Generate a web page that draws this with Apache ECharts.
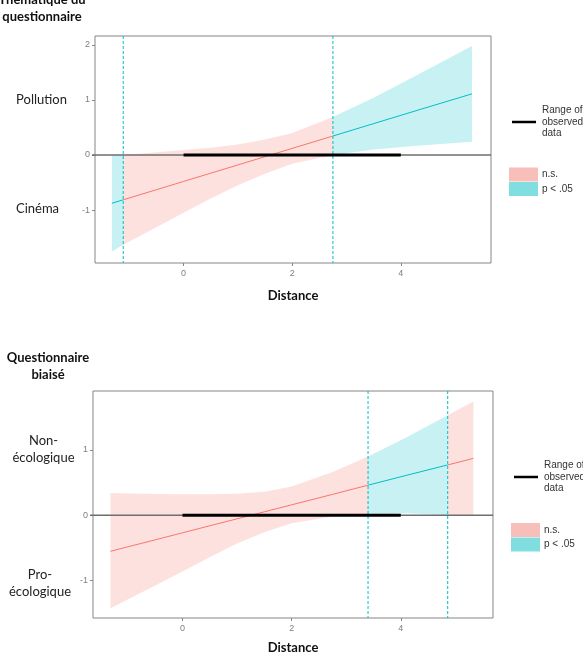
<!DOCTYPE html>
<html>
<head>
<meta charset="utf-8">
<script src="https://cdn.jsdelivr.net/npm/echarts@6/dist/echarts.min.js"></script>
<style>
  html, body { margin: 0; padding: 0; background: #fff; }
  #chart { width: 583px; height: 661px; }
</style>
</head>
<body>
<div id="chart"></div>
<script>
// top panel : questionnaire theme (Pollution / Cinéma)
const xTop = [-1.32, -1.11, -0.5, 0, 0.5, 1.0, 1.5, 2.0, 2.75, 3.5, 4.3, 5.31]
const estTop = [-0.876, -0.813, -0.63, -0.48, -0.33, -0.18, -0.03, 0.12, 0.345, 0.57, 0.81, 1.11]
const lowTop = [-1.75, -1.63, -1.31, -1.05, -0.79, -0.55, -0.34, -0.16, 0.0, 0.10, 0.17, 0.24]
const upTop = [-0.01, 0.0, 0.05, 0.09, 0.13, 0.19, 0.28, 0.40, 0.69, 1.04, 1.45, 1.98]
const jnTop = [-1.11, 2.75]

// bottom panel : biased questionnaire
const xBot = [-1.32, -0.5, 0, 0.5, 1.0, 1.5, 2.0, 2.75, 3.40, 4.1, 4.86, 5.33]
const estBot = [-0.55, -0.375, -0.268, -0.16, -0.054, 0.053, 0.16, 0.32, 0.46, 0.61, 0.77, 0.87]
const lowBot = [-1.42, -1.075, -0.86, -0.64, -0.43, -0.26, -0.12, -0.02, 0.0, 0.03, 0.0, -0.01]
const upBot = [0.34, 0.325, 0.32, 0.32, 0.33, 0.36, 0.44, 0.66, 0.90, 1.19, 1.53, 1.74]
const jnBot = [3.40, 4.86]

const observedRange = [0, 4]
const xTicks = [0, 2, 4]
const yTicksTop = [-1, 0, 1, 2]
const yTicksBot = [-1, 0, 1]

const PINK = '#F8766D'
const CYAN = '#00BFC4'
const PINK_FILL = 'rgba(248,118,109,0.22)'
const CYAN_FILL = 'rgba(0,191,196,0.22)'
const LABEL_FONT = 'Lato'
const SMALL_FONT = '"Liberation Sans", Arial, sans-serif'

// split point indices into ns / significant stretches at the J-N points
const regions = (xs, jn, startsSig) => {
  const cuts = [0, ...jn.map(v => xs.indexOf(v)), xs.length - 1]
  const out = []
  for (let i = 0; i < cuts.length - 1; i++) {
    out.push({ from: cuts[i], to: cuts[i + 1], sig: (i % 2 === 0) === startsSig })
  }
  return out
}

const panelSeries = (idx, xs, est, lo, hi, jn, startsSig) => {
  const regs = regions(xs, jn, startsSig)
  const list = []

  list.push({
    type: 'custom',
    xAxisIndex: idx,
    yAxisIndex: idx,
    z: 1,
    silent: true,
    data: regs.map(r => [xs[r.from], est[r.from]]),
    renderItem: (params, api) => {
      const r = regs[params.dataIndex]
      const pts = []
      for (let i = r.from; i <= r.to; i++) pts.push(api.coord([xs[i], hi[i]]))
      for (let i = r.to; i >= r.from; i--) pts.push(api.coord([xs[i], lo[i]]))
      return {
        type: 'polygon',
        shape: { points: pts },
        style: { fill: r.sig ? CYAN_FILL : PINK_FILL }
      }
    }
  })

  // J-N bounds: dashed verticals across the whole panel
  list.push({
    type: 'custom',
    xAxisIndex: idx,
    yAxisIndex: idx,
    z: 2,
    silent: true,
    data: jn.map(v => [v, 0]),
    renderItem: (params, api) => {
      const p = api.coord([api.value(0), 0])
      const cs = params.coordSys
      return {
        type: 'line',
        shape: { x1: p[0], y1: cs.y, x2: p[0], y2: cs.y + cs.height },
        style: { stroke: CYAN, lineWidth: 1, lineDash: [3, 2] }
      }
    }
  })

  // zero reference across the panel
  list.push({
    type: 'custom',
    xAxisIndex: idx,
    yAxisIndex: idx,
    z: 3,
    silent: true,
    data: [[0, 0]],
    renderItem: (params, api) => {
      const p = api.coord([0, api.value(1)])
      const cs = params.coordSys
      return {
        type: 'line',
        shape: { x1: cs.x - 3, y1: p[1], x2: cs.x + cs.width, y2: p[1] },
        style: { stroke: '#6e6e6e', lineWidth: 1.5 }
      }
    }
  })

  regs.forEach(r => {
    list.push({
      type: 'line',
      xAxisIndex: idx,
      yAxisIndex: idx,
      z: 4,
      silent: true,
      symbol: 'none',
      lineStyle: { color: r.sig ? CYAN : PINK, width: 1 },
      data: xs.slice(r.from, r.to + 1).map((v, k) => [v, est[r.from + k]])
    })
  })

  list.push({
    type: 'line',
    xAxisIndex: idx,
    yAxisIndex: idx,
    z: 5,
    silent: true,
    symbol: 'none',
    lineStyle: { color: '#000', width: 3 },
    data: observedRange.map(v => [v, 0])
  })

  return list
}

const xAxisOf = (idx, min, max, gap) => ({
  type: 'value',
  gridIndex: idx,
  min, max,
  name: 'Distance',
  nameLocation: 'middle',
  nameGap: gap,
  nameTextStyle: { fontFamily: LABEL_FONT, fontWeight: 'bold', fontSize: 13, color: '#111' },
  axisLine: { show: false, onZero: false },
  splitLine: { show: false },
  axisTick: { show: true, length: 3, lineStyle: { color: '#888' }, customValues: xTicks },
  axisLabel: { customValues: xTicks, color: '#7f7f7f', fontSize: 9, fontFamily: SMALL_FONT, margin: 6 }
})

const yAxisOf = (idx, min, max, ticks) => ({
  type: 'value',
  gridIndex: idx,
  min, max,
  axisLine: { show: false, onZero: false },
  splitLine: { show: false },
  axisTick: { show: true, length: 3, lineStyle: { color: '#888' }, customValues: ticks },
  axisLabel: { customValues: ticks, color: '#7f7f7f', fontSize: 9, fontFamily: SMALL_FONT, margin: 5 }
})

const sideText = (x, y, text, bold) => ({
  type: 'text',
  x, y,
  style: {
    text,
    fill: bold ? '#111' : '#222',
    font: `${bold ? 'bold ' : ''}13px ${LABEL_FONT}`,
    lineHeight: 17,
    align: 'center',
    verticalAlign: 'middle'
  }
})

const legendText = (x, y, text) => ({
  type: 'text',
  x, y,
  style: { text, fill: '#333', font: `10px ${SMALL_FONT}`, lineHeight: 11.5, align: 'left', verticalAlign: 'middle' }
})

const legendBlock = (lx, ly, rx, ry, tx) => [
  { type: 'line', shape: { x1: lx, y1: ly, x2: lx + 24, y2: ly }, style: { stroke: '#000', lineWidth: 2.5 } },
  legendText(tx, ly, 'Range of\nobserved\ndata'),
  { type: 'rect', shape: { x: rx, y: ry, width: 29, height: 14 }, style: { fill: '#F8BEBA' } },
  { type: 'rect', shape: { x: rx, y: ry + 14.5, width: 29, height: 14 }, style: { fill: '#80DEE1' } },
  legendText(tx, ry + 7, 'n.s.'),
  legendText(tx, ry + 21.5, 'p < .05')
]

const chart = echarts.init(document.getElementById('chart'))

chart.setOption({
  animation: false,
  backgroundColor: '#fff',
  grid: [
    { left: 95, top: 36, width: 396, height: 227, show: true, borderColor: '#858585', borderWidth: 1, backgroundColor: 'transparent' },
    { left: 93, top: 391, width: 400, height: 227, show: true, borderColor: '#858585', borderWidth: 1, backgroundColor: 'transparent' }
  ],
  xAxis: [xAxisOf(0, -1.63, 5.66, 26), xAxisOf(1, -1.64, 5.69, 23)],
  yAxis: [yAxisOf(0, -1.96, 2.16, yTicksTop), yAxisOf(1, -1.57, 1.90, yTicksBot)],
  series: [
    ...panelSeries(0, xTop, estTop, lowTop, upTop, jnTop, true),
    ...panelSeries(1, xBot, estBot, lowBot, upBot, jnBot, false)
  ],
  graphic: [
    sideText(42, 8, 'Thématique du\nquestionnaire', true),
    sideText(41.5, 100, 'Pollution'),
    sideText(37.5, 209, 'Cinéma'),
    sideText(48, 366.5, 'Questionnaire\nbiaisé', true),
    sideText(43.5, 449, 'Non-\nécologique'),
    sideText(40, 583.5, 'Pro-\nécologique'),
    ...legendBlock(512, 122, 509, 167.5, 542),
    ...legendBlock(514, 477, 511, 523, 544)
  ]
})
</script>
</body>
</html>
